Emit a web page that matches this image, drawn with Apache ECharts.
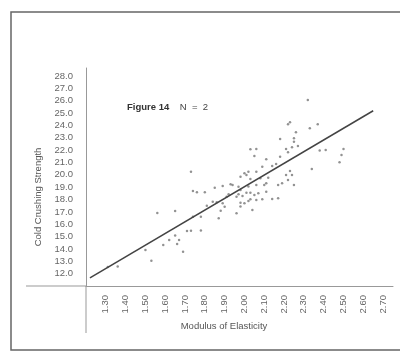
<!DOCTYPE html>
<html>
<head>
<meta charset="utf-8">
<script src="https://cdn.jsdelivr.net/npm/echarts@6/dist/echarts.min.js"></script>
<style>
  html, body { margin: 0; padding: 0; background: #fff; }
  #chart { width: 400px; height: 352px; }
</style>
</head>
<body>
<div id="chart"></div>
<script>
// modulus of elasticity (x) and cold crushing strength (y) of each sample
const elasticity = [
  1.31, 1.36, 1.50, 1.53, 1.56, 1.59, 1.62, 1.65, 1.65, 1.66,
  1.67, 1.69, 1.71, 1.73, 1.78, 1.74, 1.78, 1.87, 1.73, 1.74,
  1.76, 1.80, 1.81, 1.85, 1.86, 1.84, 1.89, 1.90, 1.88, 1.89,
  1.93, 1.94, 1.91, 1.92, 1.96, 1.98, 2.00, 2.01, 1.98, 2.01,
  2.03, 2.07, 2.11, 1.97, 1.99, 1.98, 2.00, 2.03, 2.06, 2.09,
  2.04, 2.03, 2.08, 2.06, 2.11, 2.06, 2.09, 1.97, 1.96, 2.02,
  2.05, 2.14, 2.10, 2.17, 2.25, 2.22, 2.12, 2.02, 2.11, 2.18,
  2.14, 2.16, 2.23, 2.24, 2.21, 2.03, 2.06, 2.05, 2.21, 2.22,
  2.24, 2.27, 2.18, 2.25, 2.25, 2.26, 2.22, 2.23, 2.33, 2.37,
  2.32, 2.38, 2.41, 2.50, 2.49, 2.48, 2.34, 2.19, 2.17, 2.02,
  1.98
];
const crushing = [
  12.54, 12.58, 13.91, 13.05, 16.91, 14.32, 14.72, 17.07, 15.09, 14.40,
  14.72, 13.78, 15.45, 15.48, 15.49, 16.61, 16.61, 16.48, 20.26, 18.69,
  18.59, 18.59, 17.50, 18.96, 17.78, 17.83, 17.70, 17.42, 17.10, 19.10,
  19.23, 19.18, 18.23, 18.43, 16.89, 19.85, 20.13, 19.99, 18.77, 18.55,
  18.55, 18.51, 18.64, 18.43, 18.29, 17.74, 17.70, 18.02, 17.96, 18.02,
  17.15, 19.66, 19.72, 19.18, 19.32, 20.26, 20.66, 19.04, 18.23, 17.88,
  18.37, 18.04, 19.18, 19.18, 19.18, 19.58, 19.77, 20.26, 21.26, 21.47,
  20.72, 20.88, 20.31, 19.99, 19.99, 22.07, 22.09, 21.53, 22.09, 21.83,
  22.23, 22.34, 22.90, 22.96, 22.68, 23.45, 24.09, 24.25, 23.77, 24.09,
  26.06, 21.97, 22.01, 22.09, 21.61, 21.02, 20.47, 19.32, 18.10, 19.06,
  17.44
];
// fitted line end points
const fitX = [1.22, 2.65];
const fitY = [11.65, 25.19];
// labelled tick range
const xTickFirst = 1.3, xTickLast = 2.7;
const yTickFirst = 12, yTickLast = 28;

const font = "'Liberation Sans', Arial, sans-serif";
const chart = echarts.init(document.getElementById("chart"));

chart.setOption({
  backgroundColor: "#fff",
  animation: false,
  title: {
    text: "{b|Figure 14}    N  =  2",
    left: 122,
    top: 97,
    textStyle: {
      fontFamily: font,
      fontSize: 9.5,
      fontWeight: "normal",
      color: "#444",
      rich: {
        b: { fontFamily: font, fontSize: 9.5, fontWeight: "bold", color: "#333" }
      }
    }
  },
  grid: { left: 86, top: 68, right: 7, bottom: 66 },
  xAxis: {
    type: "value",
    min: 1.2,
    max: 2.75,
    interval: 0.1,
    name: "Modulus of Elasticity",
    nameLocation: "middle",
    nameGap: 31,
    nameTextStyle: { fontFamily: font, fontSize: 9.5, color: "#555", padding: [0, 31, 0, 0] },
    axisLine: { lineStyle: { color: "#999", width: 1 } },
    axisTick: { show: false },
    splitLine: { show: false },
    axisLabel: {
      rotate: 90,
      margin: 9,
      fontFamily: font,
      fontSize: 9.5,
      color: "#666",
      formatter: function (v) {
        return v >= xTickFirst - 1e-6 && v <= xTickLast + 1e-6 ? v.toFixed(2) : "";
      }
    }
  },
  yAxis: {
    type: "value",
    min: 11,
    max: 28.65,
    interval: 1,
    name: "Cold Crushing Strength",
    nameLocation: "middle",
    nameGap: 38,
    nameTextStyle: { fontFamily: font, fontSize: 9.5, color: "#555", padding: [0, 40, 0, 0] },
    axisLine: { show: true, lineStyle: { color: "#999", width: 1 } },
    axisTick: { show: false },
    splitLine: { show: false },
    axisLabel: {
      margin: 13,
      fontFamily: font,
      fontSize: 9.5,
      color: "#666",
      formatter: function (v) {
        return v >= yTickFirst - 1e-6 && v <= yTickLast + 1e-6 ? v.toFixed(1) : "";
      }
    }
  },
  graphic: [
    {
      // page frame, its right side lies off the picture
      type: "rect",
      shape: { x: 11, y: 12, width: 430, height: 338 },
      style: { fill: "none", stroke: "#666", lineWidth: 1.5 }
    },
    {
      // x axis line carried on to the left of the y axis
      type: "line",
      shape: { x1: 26, y1: 286, x2: 86, y2: 286 },
      style: { stroke: "#999", lineWidth: 1 }
    },
    {
      // y axis line carried on below the x axis
      type: "line",
      shape: { x1: 86, y1: 286, x2: 86, y2: 333 },
      style: { stroke: "#999", lineWidth: 1 }
    }
  ],
  series: [
    {
      type: "scatter",
      symbol: "circle",
      symbolSize: 2.5,
      itemStyle: { color: "#777" },
      data: elasticity.map((x, i) => [x, crushing[i]])
    },
    {
      type: "line",
      symbol: "none",
      lineStyle: { color: "#444", width: 1.5 },
      data: fitX.map((x, i) => [x, fitY[i]])
    }
  ]
});
</script>
</body>
</html>
